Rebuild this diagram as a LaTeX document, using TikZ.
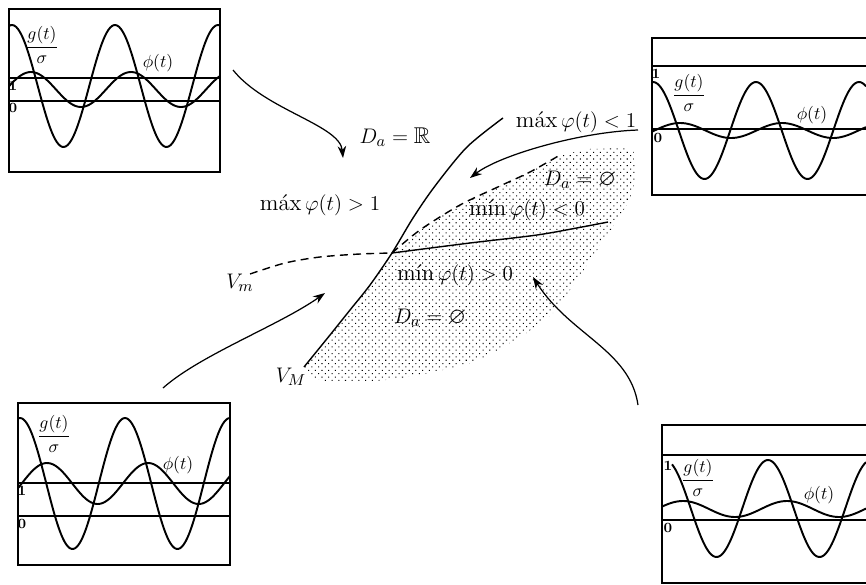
\documentclass[tikz,border=0pt]{standalone}
\usepackage{amsmath}
\usepackage{amssymb}
\usetikzlibrary{arrows.meta, patterns.meta}

\begin{document}
\begin{tikzpicture}[x=0.02cm, y=-0.02cm,
  frame/.style={line width=0.8pt},
  level/.style={line width=0.7pt},
  wave/.style={line width=1.1pt, smooth, samples=120},
  border/.style={line width=0.8pt},
  dashborder/.style={line width=0.8pt, dash pattern=on 4.5pt off 3pt},
  pointer/.style={line width=0.7pt, -{Stealth[length=2.4mm, width=1.7mm]}},
  lbl/.style={inner sep=0pt, font=\fontsize{13}{15}\selectfont},
  num/.style={inner sep=0pt, font=\footnotesize\bfseries},
  boxlbl/.style={inner sep=0pt, font=\normalsize}]

\useasboundingbox (0,0) rectangle (866,585);
\clip (0,0) rectangle (866,585);

% top left box
\draw[frame] (9,9) rectangle (220,172);
\draw[level] (9,78) -- (220,78);
\draw[level] (9,101) -- (220,101);
\draw[wave, domain=9:220] plot(\x, {86-61*cos((\x-115)*3.495)});
\draw[wave, domain=9:220] plot(\x, {89.5-17.5*cos((\x-31)*3.6)});
\node[boxlbl] (gTL) at (42,45) {$\dfrac{g(t)}{\sigma}$};
\node[boxlbl] (pTL) at (158,63) {$\phi(t)$};
\node[num] (oneTL) at (13,86) {1};
\node[num] (zeroTL) at (13,108) {0};

% top right box
\draw[frame] (652,38) rectangle (900,195);
\draw[level] (652,66) -- (900,66);
\draw[level] (652,129) -- (900,129);
\draw[wave, domain=652:866] plot(\x, {130.5-48.5*cos((\x-756)*3.495)});
\draw[wave, domain=652:866] plot(\x, {130.5-7.5*cos((\x-680)*3.53)});
\node[num] (oneTR) at (656,74) {1};
\node[boxlbl] (gTR) at (689,93) {$\dfrac{g(t)}{\sigma}$};
\node[boxlbl] (pTR) at (812,115) {$\phi(t)$};
\node[num] (zeroTR) at (658,138) {0};

% bottom left box
\draw[frame] (18,403) rectangle (230,565);
\draw[level] (18,483) -- (230,483);
\draw[level] (18,516) -- (230,516);
\draw[wave, domain=18:230] plot(\x, {483.5-65.5*cos((\x-125)*3.43)});
\draw[wave, domain=18:230] plot(\x, {483.5-20.5*cos((\x-47)*3.56)});
\node[boxlbl] (gBL) at (54,434) {$\dfrac{g(t)}{\sigma}$};
\node[boxlbl] (pBL) at (178,465) {$\phi(t)$};
\node[num] (oneBL) at (22,491) {1};
\node[num] (zeroBL) at (22,524) {0};

% bottom right box
\draw[frame] (662,425) rectangle (900,583);
\draw[level] (662,455) -- (900,455);
\draw[level] (662,520) -- (900,520);
\draw[wave, domain=672:866] plot(\x, {508.5-48.5*cos((\x-768)*3.495)});
\draw[wave, domain=662:866] plot(\x, {509-8*cos((\x-683)*3.46)});
\node[num] (oneBR) at (668,466) {1};
\node[boxlbl] (gBR) at (698,478) {$\dfrac{g(t)}{\sigma}$};
\node[boxlbl] (pBR) at (819,495) {$\phi(t)$};
\node[num] (zeroBR) at (668,528) {0};

% dotted region
\path[pattern={Dots[distance=2.7pt, radius=0.42pt, angle=45]}]
  plot[smooth] coordinates {(392,253) (370,285) (350,310) (330,335) (304,367)}
  -- plot[smooth] coordinates {(310,378) (345,383) (400,378) (470,363) (520,337) (553,313) (577,280) (597,250) (612,228) (627,205) (635,180) (634,152)}
  -- (625,148) -- (590,149) -- (560,155)
  -- plot[smooth] coordinates {(560,155) (530,172) (500,186) (460,205) (420,230) (392,253)} -- cycle;

\coordinate (I) at (392,253);

% boundaries
\draw[border] plot[smooth] coordinates {(304,367) (330,335) (350,310) (370,285) (I) (413,218) (435,186) (467,147) (503,118)};
\draw[border] plot[smooth] coordinates {(I) (470,243) (537,235) (582,227) (608,222)};
\draw[dashborder] plot[smooth] coordinates {(250,274) (285,263) (320,257) (360,254) (I)};
\draw[dashborder] plot[smooth] coordinates {(I) (420,230) (460,205) (500,186) (530,172) (560,155)};

% labels
\node[lbl] (DR) at (395,137) {$D_a = \mathbb{R}$};
\node[lbl] (maxlt) at (576,122) {máx$\,\varphi(t) < 1$};
\node[lbl] (maxgt) at (320,205) {máx$\,\varphi(t) > 1$};
\node[lbl] (Dup) at (580,180) {$D_a = \varnothing$};
\node[lbl] (minlt) at (527,210) {mín$\,\varphi(t) < 0$};
\node[lbl] (mingt) at (455,275) {mín$\,\varphi(t) > 0$};
\node[lbl] (Dlow) at (430,318) {$D_a = \varnothing$};
\node[lbl] (Vm) at (240,283) {$V_m$};
\node[lbl] (VM) at (291,377) {$V_M$};

% pointers
\coordinate (a1s) at (233,70);
\coordinate (a1e) at (343,158);
\coordinate (a2s) at (638,130);
\coordinate (a2e) at (470,178);
\coordinate (a3s) at (163,388);
\coordinate (a3e) at (325,293);
\coordinate (a4s) at (638,405);
\coordinate (a4e) at (533,277);
\draw[pointer] (a1s) .. controls (265,110) and (340,125) .. (a1e);
\draw[pointer] (a2s) .. controls (580,132) and (500,155) .. (a2e);
\draw[pointer] (a3s) .. controls (200,355) and (280,325) .. (a3e);
\draw[pointer] (a4s) .. controls (630,350) and (570,335) .. (a4e);

\end{tikzpicture}
\end{document}
